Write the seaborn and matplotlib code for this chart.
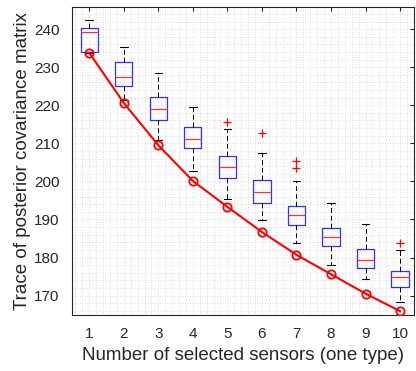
import matplotlib
matplotlib.use("Agg")
import matplotlib.pyplot as plt
from matplotlib.ticker import MultipleLocator
import numpy as np
import seaborn as sns
import pandas as pd

sns.set_theme(style="white")
plt.rcParams['font.family'] = ['Liberation Sans', 'DejaVu Sans']

# number of selected sensors
n_sensors = [1, 2, 3, 4, 5, 6, 7, 8, 9, 10]

# box statistics (random selections)
whis_hi = [242.3, 235.4, 228.4, 219.5, 213.8, 207.4, 200.0, 194.3, 188.8, 181.9]
q3 = [240.2, 231.3, 222.3, 214.3, 206.6, 200.3, 193.5, 187.8, 182.2, 176.5]
median = [239.3, 227.5, 219.0, 211.2, 203.8, 197.3, 191.1, 185.3, 179.4, 175.0]
q1 = [234.1, 225.0, 216.2, 208.7, 200.8, 194.4, 188.5, 183.0, 177.3, 172.3]
whis_lo = [233.8, 221.4, 210.9, 202.6, 195.4, 189.9, 183.7, 178.1, 174.3, 168.4]
outliers = [[], [], [], [], [215.7], [212.7], [205.4, 203.4], [], [], [183.8]]

# greedy / optimal selection
optimal = [233.8, 220.6, 209.5, 200.1, 193.3, 186.7, 180.7, 175.6, 170.5, 165.9]

fig = plt.figure(figsize=(4.16, 3.71), dpi=100)
ax = fig.add_axes([0.173, 0.151, 0.822, 0.831])

stats = []
for i in range(len(n_sensors)):
    stats.append(dict(med=median[i], q1=q1[i], q3=q3[i],
                      whislo=whis_lo[i], whishi=whis_hi[i],
                      fliers=outliers[i]))

ax.bxp(stats, positions=n_sensors, widths=0.5, capwidths=0.22,
       boxprops=dict(color='#3030ff', linewidth=0.9),
       medianprops=dict(color='#ff3030', linewidth=0.9),
       whiskerprops=dict(color='black', linewidth=0.7, linestyle=(0, (5, 3))),
       capprops=dict(color='black', linewidth=0.8),
       flierprops=dict(marker='+', markeredgecolor='#ff0000', markersize=6,
                       markeredgewidth=0.9, linestyle='none'),
       manage_ticks=False, zorder=3)

df = pd.DataFrame({'n': n_sensors, 'trace': optimal})
sns.lineplot(data=df, x='n', y='trace', ax=ax, color='#ff0000', linewidth=1.5,
             marker='o', markersize=6, markerfacecolor='none',
             markeredgecolor='#ff0000', markeredgewidth=1.3, zorder=4)

ax.set_xlim(0.5, 10.4)
ax.set_ylim(164.9, 245.9)
ax.set_xticks(n_sensors)
ax.set_xticklabels([str(v) for v in n_sensors])
ax.set_yticks(np.arange(170, 241, 10))
ax.xaxis.set_minor_locator(MultipleLocator(0.2))
ax.yaxis.set_minor_locator(MultipleLocator(2))
ax.grid(which='both', color='#d0d0d0', linestyle=(0, (1, 2)), linewidth=0.6)
ax.set_axisbelow(True)

ax.tick_params(which='major', direction='in', length=3, width=0.8,
               top=True, right=True, colors='#262626', labelsize=11, pad=9)
ax.tick_params(which='minor', length=0, top=True, right=True)
for s in ax.spines.values():
    s.set_color('#262626')
    s.set_linewidth(0.8)

ax.set_xlabel('Number of selected sensors (one type)', fontsize=13.5,
              color='#262626', labelpad=4)
ax.set_ylabel('Trace of posterior covariance matrix', fontsize=13.5,
              color='#262626', labelpad=2)

fig.savefig('out.png', dpi=100)
